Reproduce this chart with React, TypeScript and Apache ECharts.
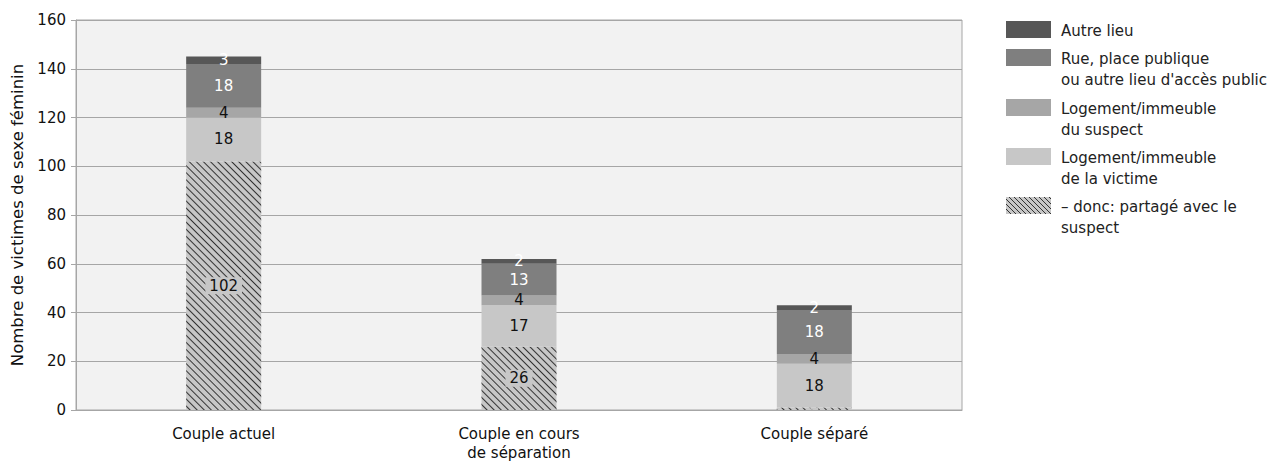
import React, { useEffect, useRef } from "react";
import * as echarts from "echarts";

const categories = ["Couple actuel", "Couple en cours\nde séparation", "Couple séparé"];
const seriesNames = [
  "– donc: partagé avec le\nsuspect",
  "Logement/immeuble\nde la victime",
  "Logement/immeuble\ndu suspect",
  "Rue, place publique\nou autre lieu d'accès public",
  "Autre lieu",
];
const sharedWithSuspect = [102, 26, 1];
const victimHome = [18, 17, 18];
const suspectHome = [4, 4, 4];
const publicPlace = [18, 13, 18];
const otherPlace = [3, 2, 2];
const yTicks = { min: 0, max: 160, interval: 20 };

const FONT = "DejaVu Sans";

export default function App() {
  const ref = useRef<HTMLDivElement>(null);
  useEffect(() => {
    if (!ref.current) return;
    const chart = echarts.init(ref.current, null, { renderer: "svg" });
    const fills = ["#c7c7c7", "#c7c7c7", "#a6a6a6", "#7f7f7f", "#575757"];
    const labelColors = ["#111", "#111", "#111", "#fff", "#fff"];
    const data = [sharedWithSuspect, victimHome, suspectHome, publicPlace, otherPlace];
    const series = data.map((vals, i) => ({
      name: seriesNames[i],
      type: "bar",
      stack: "total",
      barWidth: 75,
      data: vals,
      itemStyle: {
        color: fills[i],
        decal:
          i === 0
            ? {
                symbol: "rect",
                symbolSize: 1,
                color: "#333",
                dashArrayX: [1, 0],
                dashArrayY: [1, 3.2],
                rotation: Math.PI / 4,
              }
            : undefined,
      },
      label: {
        show: true,
        position: "inside",
        fontFamily: FONT,
        fontSize: 15,
        color: labelColors[i],
        formatter: (p: any) => (p.value >= 2 ? String(p.value) : ""),
        ...(i === 0
          ? { backgroundColor: "#c7c7c7", padding: [2, 4, 0, 4] }
          : {}),
      },
    }));

    // legend graphic
    const legendOrder = [4, 3, 2, 1, 0];
    const legendTops = [13, 41, 91, 140, 189];
    const boxX = 998;
    const boxW = 45;
    const boxH = 17;
    const graphic: any[] = [];
    legendOrder.forEach((si, k) => {
      const top = legendTops[k];
      graphic.push({
        type: "rect",
        shape: { x: boxX, y: top, width: boxW, height: boxH },
        style: { fill: fills[si] },
      });
      if (si === 0) {
        for (let d = -boxH; d < boxW; d += 5) {
          const x1 = boxX + Math.max(d, 0);
          const y1 = top + Math.max(-d, 0);
          const len = Math.min(boxW - Math.max(d, 0), boxH - Math.max(-d, 0));
          graphic.push({
            type: "line",
            shape: { x1, y1, x2: x1 + len, y2: y1 + len },
            style: { stroke: "#333", lineWidth: 1 },
          });
        }
      }
      graphic.push({
        type: "text",
        x: 1053,
        y: top - 1,
        style: {
          text: seriesNames[si],
          fontFamily: FONT,
          fontSize: 15,
          lineHeight: 21,
          fill: "#222",
        },
      });
    });

    chart.setOption({
      animation: false,
      textStyle: { fontFamily: FONT },
      grid: {
        left: 68,
        right: 311,
        top: 12,
        bottom: 52,
        outerBoundsMode: "none",
        containLabel: false,
        show: true,
        backgroundColor: "#f2f2f2",
        borderColor: "#a6a6a6",
        borderWidth: 1,
      },
      xAxis: {
        type: "category",
        data: categories,
        axisLine: { lineStyle: { color: "#a6a6a6" } },
        axisTick: { show: false },
        axisLabel: {
          color: "#111",
          fontSize: 15,
          fontFamily: FONT,
          lineHeight: 19,
          margin: 14,
        },
      },
      yAxis: {
        type: "value",
        min: yTicks.min,
        max: yTicks.max,
        interval: yTicks.interval,
        name: "Nombre de victimes de sexe féminin",
        nameLocation: "middle",
        nameGap: 50,
        nameTextStyle: { fontSize: 16.5, color: "#111", fontFamily: FONT },
        axisLine: { show: true, lineStyle: { color: "#a6a6a6" } },
        axisTick: { show: true, length: 5, lineStyle: { color: "#a6a6a6" } },
        axisLabel: { color: "#111", fontSize: 15, fontFamily: FONT, margin: 10 },
        splitLine: { lineStyle: { color: "#a6a6a6" } },
      },
      series,
      graphic,
    });
    return () => chart.dispose();
  }, []);
  return <div ref={ref} style={{ width: 1265, height: 454 }} />;
}
